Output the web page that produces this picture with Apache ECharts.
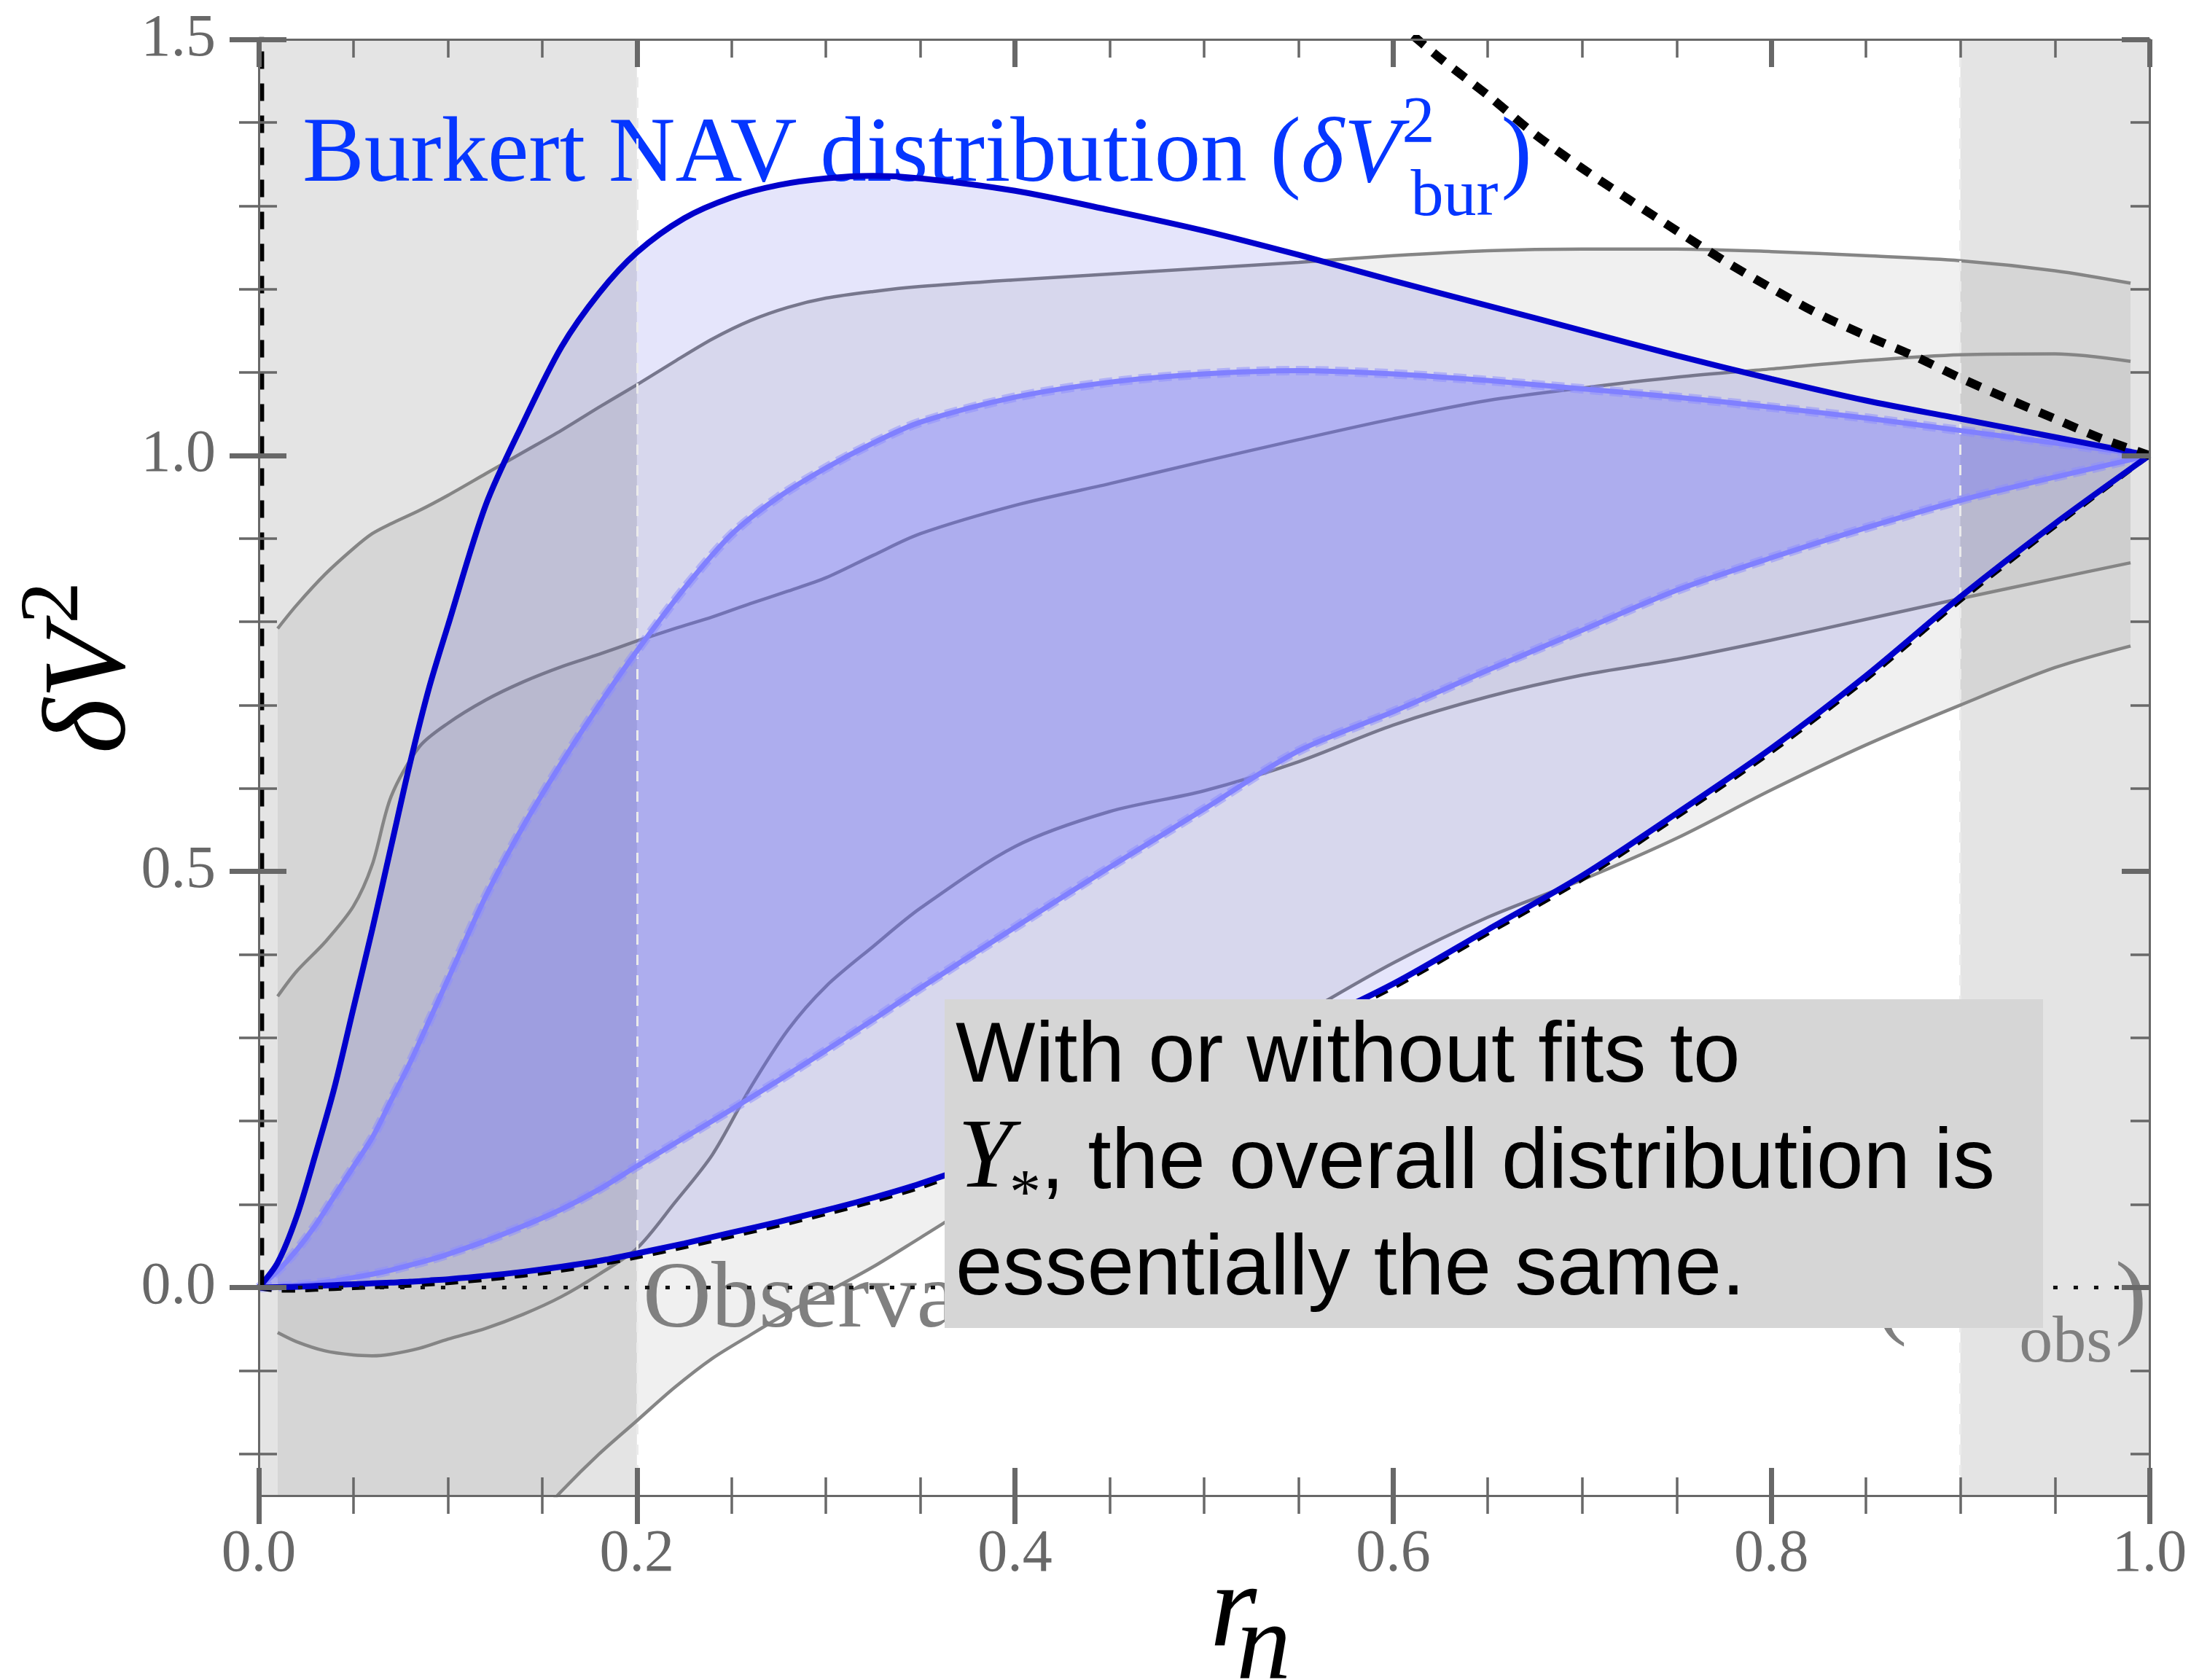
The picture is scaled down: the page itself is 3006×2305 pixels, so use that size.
<!DOCTYPE html>
<html>
<head>
<meta charset="utf-8">
<script src="https://cdn.jsdelivr.net/npm/echarts@6/dist/echarts.min.js"></script>
<style>
  html, body { margin: 0; padding: 0; background: #ffffff; }
  #chart { width: 3006px; height: 2305px; }
</style>
</head>
<body>
<div id="chart"></div>
<script>
// ---- radial grid and Burkert NAV envelopes ----
const rBur = [0, 0.01, 0.02, 0.03, 0.04, 0.05, 0.06, 0.07, 0.08, 0.09, 0.1,
  0.12, 0.14, 0.16, 0.18, 0.2, 0.225, 0.25, 0.275, 0.3, 0.325, 0.35,
  0.4, 0.45, 0.5, 0.55, 0.6, 0.65, 0.7, 0.75, 0.8, 0.85, 0.9, 0.95, 1.0];
const burUpper = [0, 0.03, 0.085, 0.16, 0.24, 0.335, 0.43, 0.53, 0.63, 0.72, 0.795,
  0.94, 1.04, 1.13, 1.195, 1.244, 1.285, 1.31, 1.325, 1.333, 1.336, 1.333,
  1.318, 1.295, 1.27, 1.241, 1.21, 1.18, 1.15, 1.12, 1.092, 1.066, 1.044, 1.022, 1.0];
const burLower = [0, 0.0005, 0.001, 0.002, 0.003, 0.004, 0.005, 0.006, 0.007, 0.0085, 0.01,
  0.014, 0.019, 0.025, 0.032, 0.041, 0.053, 0.066, 0.079, 0.093, 0.108, 0.125,
  0.165, 0.21, 0.258, 0.31, 0.365, 0.43, 0.495, 0.57, 0.648, 0.735, 0.83, 0.918, 1.0];
const burLowerDashed = [0, -0.003, -0.003, -0.002, -0.001, 0, 0.001, 0.002, 0.003, 0.0045, 0.006,
  0.01, 0.015, 0.021, 0.028, 0.037, 0.049, 0.062, 0.075, 0.089, 0.104, 0.121,
  0.161, 0.206, 0.254, 0.306, 0.361, 0.426, 0.491, 0.566, 0.644, 0.731, 0.826, 0.915, 1.0];
const coreUpper = [0, 0.02, 0.045, 0.075, 0.11, 0.145, 0.18, 0.225, 0.27, 0.32, 0.37,
  0.47, 0.555, 0.63, 0.70, 0.765, 0.84, 0.905, 0.95, 0.985, 1.015, 1.04,
  1.07, 1.088, 1.098, 1.102, 1.098, 1.09, 1.08, 1.07, 1.058, 1.045, 1.03, 1.015, 1.0];
const coreLower = [0, 0.001, 0.003, 0.005, 0.008, 0.012, 0.016, 0.021, 0.027, 0.033, 0.04,
  0.056, 0.074, 0.094, 0.118, 0.146, 0.18, 0.214, 0.249, 0.285, 0.322, 0.36,
  0.433, 0.505, 0.575, 0.645, 0.692, 0.742, 0.79, 0.838, 0.877, 0.913, 0.946, 0.974, 1.0];

// ---- observational NAV envelopes ----
const rObs = [0.01, 0.02, 0.035, 0.05, 0.06, 0.07, 0.085, 0.1,
  0.12, 0.14, 0.16, 0.18, 0.2, 0.22, 0.24, 0.26, 0.28, 0.3, 0.325, 0.35,
  0.4, 0.45, 0.5, 0.55, 0.6, 0.65, 0.7, 0.75, 0.8, 0.85, 0.9, 0.95, 0.99];
const obsOuterUpper = [0.792, 0.82, 0.857, 0.888, 0.906, 0.918, 0.934, 0.952,
  0.978, 1.004, 1.03, 1.058, 1.085, 1.113, 1.14, 1.162, 1.178, 1.189, 1.197, 1.203,
  1.211, 1.218, 1.225, 1.232, 1.24, 1.246, 1.248, 1.248, 1.245, 1.24, 1.234, 1.222, 1.207];
const obsOuterLower = [-0.62, -0.6, -0.57, -0.53, -0.51, -0.48, -0.44, -0.4,
  -0.345, -0.295, -0.245, -0.2, -0.16, -0.12, -0.085, -0.057, -0.03, -0.006, 0.025, 0.06,
  0.13, 0.19, 0.255, 0.325, 0.39, 0.445, 0.49, 0.54, 0.598, 0.652, 0.7, 0.745, 0.771];
const obsInnerUpper = [0.35, 0.38, 0.415, 0.458, 0.508, 0.59, 0.65, 0.678,
  0.706, 0.728, 0.746, 0.761, 0.777, 0.792, 0.806, 0.822, 0.837, 0.853, 0.88, 0.906,
  0.94, 0.966, 0.993, 1.019, 1.044, 1.066, 1.081, 1.094, 1.104, 1.114, 1.121, 1.122, 1.113];
const obsInnerLower = [-0.054, -0.065, -0.076, -0.081, -0.082, -0.08, -0.073, -0.062,
  -0.049, -0.032, -0.011, 0.016, 0.047, 0.102, 0.16, 0.24, 0.31, 0.362, 0.41, 0.456,
  0.53, 0.572, 0.597, 0.632, 0.676, 0.71, 0.736, 0.755, 0.778, 0.803, 0.828, 0.852, 0.871];

// ---- bounds ----
const rBound = [0.6, 0.625, 0.65, 0.675, 0.7, 0.725, 0.75, 0.775, 0.8, 0.825, 0.85, 0.875, 0.9, 0.925, 0.95, 0.975, 1.0];
const boundUpper = [1.525, 1.477, 1.433, 1.386, 1.345, 1.307, 1.27, 1.234, 1.201, 1.17, 1.144, 1.12, 1.093, 1.068, 1.044, 1.02, 1.0];
const innerEdgeR = [0.0015, 0.0015];
const innerEdgeV = [0, 1.6];
const zeroR = [0.01, 0.99];
const zeroV = [0, 0];

// ---- shaded radial ranges ----
const shadedRanges = [[0, 0.2], [0.9, 1.0]];

// ---- axes ----
const xRange = [0, 1];
const yRange = [-0.25, 1.5];
const xMajorTicks = [0, 0.2, 0.4, 0.6, 0.8, 1.0];
const xMinorTicks = [0.05, 0.1, 0.15, 0.25, 0.3, 0.35, 0.45, 0.5, 0.55, 0.65, 0.7, 0.75, 0.85, 0.9, 0.95];
const yMajorTicks = [0, 0.5, 1.0, 1.5];
const yMinorTicks = [-0.2, -0.1, 0.1, 0.2, 0.3, 0.4, 0.6, 0.7, 0.8, 0.9, 1.1, 1.2, 1.3, 1.4];

const SERIF = '"Liberation Serif", "Times New Roman", serif';
const SANS = '"Liberation Sans", Arial, sans-serif';
const AXIS_GRAY = '#686868';
const SMOOTH = 0.3;

const pts = (xs, ys) => xs.map((x, i) => [x, ys[i]]);

function lineSeries(name, data, lineStyle, z, extra) {
  return Object.assign({
    name, type: 'line', data, xAxisIndex: 0, yAxisIndex: 0, z,
    smooth: SMOOTH, symbol: 'none', showSymbol: false,
    silent: true, animation: false, lineStyle
  }, extra || {});
}

// filled region between two curves sharing one radial grid;
// open ends are doubled so the closing edges stay straight
function bandSeries(name, xs, hi, lo, color, z) {
  return {
    name, type: 'custom', xAxisIndex: 0, yAxisIndex: 0, z,
    silent: true, animation: false, clip: true,
    data: [[xs[0], lo[0]]],
    encode: { x: 0, y: 1 },
    renderItem: (params, api) => {
      const n = xs.length - 1;
      const top = xs.map((x, i) => api.coord([x, hi[i]]));
      const bottom = xs.map((x, i) => api.coord([x, lo[i]]));
      if (hi[0] !== lo[0]) { top.unshift(top[0]); bottom.unshift(bottom[0]); }
      if (hi[n] !== lo[n]) { top.push(top[top.length - 1]); bottom.push(bottom[bottom.length - 1]); }
      return {
        type: 'polygon',
        shape: { points: top.concat(bottom.reverse()), smooth: SMOOTH },
        style: { fill: color }
      };
    }
  };
}

function axis(dim, position, inside, ticks, length, width, opts) {
  const range = dim === 'x' ? xRange : yRange;
  return {
    type: 'value', gridIndex: 0, position, z: 50,
    min: range[0], max: range[1],
    axisLine: { show: !!opts.line, onZero: false, lineStyle: { color: AXIS_GRAY, width: 3 } },
    axisTick: { show: true, inside, customValues: ticks, length, lineStyle: { color: AXIS_GRAY, width } },
    minorTick: { show: false },
    splitLine: { show: false },
    axisLabel: opts.labels ? Object.assign({
      show: true, customValues: ticks, formatter: v => v.toFixed(1),
      fontFamily: SERIF, fontSize: 82, color: AXIS_GRAY
    }, opts.labels) : { show: false }
  };
}

const xAxes = [
  axis('x', 'bottom', false, xMajorTicks, 39, 7, { line: true, labels: { margin: 40 } }),
  axis('x', 'bottom', true, xMajorTicks, 38, 7, {}),
  axis('x', 'bottom', false, xMinorTicks, 25, 3.5, {}),
  axis('x', 'bottom', true, xMinorTicks, 25, 3.5, {}),
  axis('x', 'top', true, xMajorTicks, 38, 7, { line: true }),
  axis('x', 'top', true, xMinorTicks, 25, 3.5, {})
];
const yAxes = [
  axis('y', 'left', false, yMajorTicks, 40, 7, { line: true, labels: { margin: 59 } }),
  axis('y', 'left', true, yMajorTicks, 38, 7, {}),
  axis('y', 'left', false, yMinorTicks, 27, 3.5, {}),
  axis('y', 'left', true, yMinorTicks, 25, 3.5, {}),
  axis('y', 'right', true, yMajorTicks, 38, 7, { line: true }),
  axis('y', 'right', true, yMinorTicks, 26, 3.5, {})
];

const grayLine = { color: '#858585', width: 4.5 };
const darkBlue = { color: '#0000cc', width: 8 };
const coreHalo = { color: 'rgba(140,140,255,0.5)', width: 13, type: [18, 9] };
const coreLine = { color: '#8080ff', width: 7 };

const series = [
  {
    name: 'shaded ranges', type: 'line', data: [], z: 1, silent: true, animation: false,
    markArea: {
      silent: true, itemStyle: { color: '#e4e4e4' },
      data: shadedRanges.map(([a, b]) => [{ xAxis: a }, { xAxis: b }])
    },
    markLine: {
      silent: true, symbol: 'none', label: { show: false },
      lineStyle: { color: '#ebebeb', width: 3, type: [14, 14] },
      data: [{ xAxis: shadedRanges[0][1] }, { xAxis: shadedRanges[1][0] }]
    }
  },
  bandSeries('obs outer', rObs, obsOuterUpper, obsOuterLower, 'rgba(0,0,0,0.06)', 2),
  bandSeries('obs inner', rObs, obsInnerUpper, obsInnerLower, 'rgba(0,0,0,0.035)', 2),
  lineSeries('obs outer upper', pts(rObs, obsOuterUpper), grayLine, 3),
  lineSeries('obs outer lower', pts(rObs, obsOuterLower), grayLine, 3),
  lineSeries('obs inner upper', pts(rObs, obsInnerUpper), grayLine, 3),
  lineSeries('obs inner lower', pts(rObs, obsInnerLower), grayLine, 3),
  bandSeries('bur outer', rBur, burUpper, burLower, 'rgba(0,0,215,0.1)', 4),
  bandSeries('bur core', rBur, coreUpper, coreLower, 'rgba(110,110,255,0.35)', 4),
  lineSeries('core upper halo', pts(rBur, coreUpper), coreHalo, 6),
  lineSeries('core lower halo', pts(rBur, coreLower), coreHalo, 6),
  lineSeries('core upper', pts(rBur, coreUpper), coreLine, 7),
  lineSeries('core lower', pts(rBur, coreLower), coreLine, 7),
  lineSeries('lower bound', pts(rBur, burLowerDashed), { color: '#000', width: 7, type: [18, 14] }, 8),
  lineSeries('bur upper', pts(rBur, burUpper), darkBlue, 9),
  lineSeries('bur lower', pts(rBur, burLower), darkBlue, 9),
  lineSeries('upper bound', pts(rBound, boundUpper), { color: '#000', width: 12, type: [20, 16] }, 10),
  lineSeries('inner edge', pts(innerEdgeR, innerEdgeV), { color: '#000', width: 7, type: [24, 20] }, 10, { smooth: false }),
  lineSeries('zero', pts(zeroR, zeroV), { color: '#111', width: 5, type: [6, 22] }, 10, { smooth: false })
];

// ---- text runs (baseline-positioned pieces with sub/superscripts) ----
const meter = document.createElement('canvas').getContext('2d');
function measure(p) {
  meter.font = (p.italic ? 'italic' : 'normal') + ' normal ' + p.size + 'px ' + p.family;
  return meter.measureText(p.t).width;
}
function textRun(x0, baseline, color, pieces, z) {
  const els = [];
  let x = x0;
  for (const p of pieces) {
    const k = p.family === SANS ? 0.3465 : 0.3375;
    const px = x + (p.dx || 0);
    els.push({
      type: 'text', x: px, y: baseline + (p.dy || 0) - k * p.size, z, silent: true,
      style: {
        text: p.t, fill: p.color || color, fontFamily: p.family, fontSize: p.size,
        fontStyle: p.italic ? 'italic' : 'normal', align: 'left', verticalAlign: 'middle'
      }
    });
    if (!p.hold) x = px + measure(p);
  }
  return els;
}

const burkertTitle = textRun(415, 258, '#0536ff', [
  { t: 'Burkert NAV distribution (', family: SERIF, size: 127 },
  { t: 'δV', family: SERIF, size: 127, italic: true },
  { t: '2', family: SERIF, size: 90, dy: -56, dx: 2, hold: true },
  { t: 'bur', family: SERIF, size: 90, dy: 44, dx: 14 },
  { t: ')', family: SERIF, size: 127, dx: 4 }
], 5);

const observedTitle = textRun(882, 1830, '#808080', [
  { t: 'Observational NAV distribution (', family: SERIF, size: 130 },
  { t: 'δV', family: SERIF, size: 130, italic: true },
  { t: '2', family: SERIF, size: 92, dy: -57, dx: 2, hold: true },
  { t: 'obs', family: SERIF, size: 92, dy: 45, dx: 14 },
  { t: ')', family: SERIF, size: 130, dx: 4 }
], 5);

const note = [
  ...textRun(1311, 1492, '#000', [{ t: 'With or without fits to', family: SANS, size: 116 }], 21),
  ...textRun(1314, 1638, '#000', [
    { t: 'Y', family: SERIF, size: 135, italic: true },
    { t: '*', family: SERIF, size: 86, dy: 32, dx: -4 },
    { t: ', the overall distribution is', family: SANS, size: 116 }
  ], 21),
  ...textRun(1311, 1784, '#000', [{ t: 'essentially the same.', family: SANS, size: 116 }], 21)
];

const xTitle = textRun(1660, 2270, '#000', [
  { t: 'r', family: SERIF, size: 165, italic: true },
  { t: 'n', family: SERIF, size: 150, italic: true, dy: 43, dx: -28 }
], 5);

const yTitle = {
  type: 'group', x: 182, y: 1034, rotation: Math.PI / 2, z: 5,
  children: textRun(0, 0, '#000', [
    { t: 'δV', family: SERIF, size: 162, italic: true },
    { t: '2', family: SERIF, size: 115, dy: -67, dx: 4 }
  ], 5)
};

const noteBox = {
  type: 'rect', z: 20, silent: true,
  shape: { x: 1296, y: 1371, width: 1507, height: 451 },
  style: { fill: '#d6d6d6' }
};

const chart = echarts.init(document.getElementById('chart'), null, { renderer: 'canvas', devicePixelRatio: 1 });
chart.setOption({
  animation: false,
  backgroundColor: '#ffffff',
  grid: { left: 355, right: 57, top: 54, bottom: 253, containLabel: false },
  xAxis: xAxes,
  yAxis: yAxes,
  series,
  graphic: { elements: [...burkertTitle, ...observedTitle, noteBox, ...note, ...xTitle, yTitle] }
});
</script>
</body>
</html>
